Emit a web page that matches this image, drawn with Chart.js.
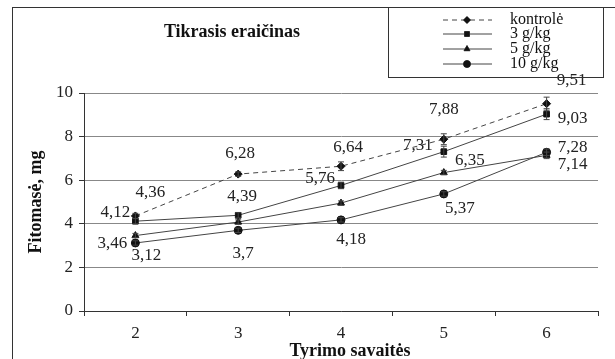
<!DOCTYPE html>
<html>
<head>
<meta charset="utf-8">
<script src="https://cdn.jsdelivr.net/npm/chart.js@4"></script>
<style>
  html, body { margin: 0; padding: 0; background: #fff; }
  #wrap { position: relative; width: 615px; height: 359px; overflow: hidden; }
  #frame { position: absolute; left: 12px; top: 7px; width: 640px; height: 400px; border: 1px solid #333; }
  canvas { position: absolute; left: 0; top: 0; }
</style>
</head>
<body>
<div id="wrap">
  <div id="frame"></div>
  <canvas id="chart" width="615" height="359"></canvas>
</div>
<script>
const weeks = ["2", "3", "4", "5", "6"];
const seriesNames = ["kontrolė", "3 g/kg", "5 g/kg", "10 g/kg"];
const kontrole = [4.36, 6.28, 6.64, 7.88, 9.51];
const g3 = [4.12, 4.39, 5.76, 7.31, 9.03];
const g5 = [3.46, 4.08, 4.95, 6.35, 7.14];
const g10 = [3.12, 3.7, 4.18, 5.37, 7.28];
const yTicks = [0, 2, 4, 6, 8, 10];

// error bar half-heights, estimated
const errKontrole = [0.12, 0.1, 0.2, 0.25, 0.3];
const errG3 = [0.12, 0.12, 0.15, 0.25, 0.25];
const errG5 = [0.1, 0.1, 0.1, 0.1, 0.15];
const errG10 = [0.1, 0.1, 0.1, 0.1, 0.15];

// which points carry a value label, and where it sits relative to the point (px)
const labelOffsets = [
  [[15, -23], [2, -21], [7, -19], [0, -30], [25, -23]],
  [[-20, -9], [4, -19], [-21, -7], [-26, -6], [26, 4]],
  [[-23, 8], null, null, [26, -12], [26, 9]],
  [[11, 13], [5, 23], [10, 20], [16, 15], [26, -5]]
];

const allValues = [kontrole, g3, g5, g10];
const allErrors = [errKontrole, errG3, errG5, errG10];
const markers = ["rectRot", "rect", "triangle", "circle"];
const dashes = [[5, 4], [], [], []];
const serif = "'Liberation Serif', 'DejaVu Serif', serif";

const extrasPlugin = {
  id: "extras",
  afterDatasetsDraw(chart) {
    const ctx = chart.ctx;
    const x = chart.scales.x, y = chart.scales.y;
    ctx.save();
    // error bars
    ctx.strokeStyle = "#444";
    ctx.lineWidth = 1;
    allValues.forEach((vals, i) => {
      vals.forEach((v, j) => {
        const e = allErrors[i][j];
        const px = x.getPixelForValue(j);
        const y1 = y.getPixelForValue(v + e), y2 = y.getPixelForValue(v - e);
        ctx.beginPath();
        ctx.moveTo(px, y1); ctx.lineTo(px, y2);
        ctx.moveTo(px - 3, y1); ctx.lineTo(px + 3, y1);
        ctx.moveTo(px - 3, y2); ctx.lineTo(px + 3, y2);
        ctx.stroke();
      });
    });
    // value labels
    ctx.fillStyle = "#222";
    ctx.font = "17px " + serif;
    ctx.textAlign = "center";
    ctx.textBaseline = "middle";
    allValues.forEach((vals, i) => {
      vals.forEach((v, j) => {
        const off = labelOffsets[i][j];
        if (!off) return;
        const px = x.getPixelForValue(j), py = y.getPixelForValue(v);
        ctx.fillText(String(v).replace(".", ","), px + off[0], py + off[1]);
      });
    });
    ctx.restore();
  },
  afterDraw(chart) {
    const ctx = chart.ctx;
    ctx.save();
    // title
    ctx.fillStyle = "#111";
    ctx.font = "bold 18px " + serif;
    ctx.textAlign = "center";
    ctx.textBaseline = "middle";
    ctx.fillText("Tikrasis eraičinas", 232, 32);
    // x axis title
    ctx.fillText("Tyrimo savaitės", 350, 351);
    // legend box
    ctx.strokeStyle = "#333";
    ctx.lineWidth = 1;
    ctx.strokeRect(388.5, 7.5, 215, 70);
    const rows = [20, 34, 49, 64];
    seriesNames.forEach((name, i) => {
      const ry = rows[i];
      ctx.strokeStyle = "#444";
      ctx.setLineDash(dashes[i]);
      ctx.beginPath();
      ctx.moveTo(443, ry); ctx.lineTo(492, ry);
      ctx.stroke();
      ctx.setLineDash([]);
      Chart.helpers.drawPoint(ctx, { pointStyle: markers[i], radius: 3.5, rotation: 0, borderWidth: 1 }, 467, ry);
      ctx.fillStyle = "#111";
      ctx.fill();
      ctx.font = "16px " + serif;
      ctx.textAlign = "left";
      ctx.fillText(name, 510, ry);
    });
    ctx.restore();
  }
};

new Chart(document.getElementById("chart"), {
  type: "line",
  data: {
    labels: weeks,
    datasets: allValues.map((vals, i) => ({
      label: seriesNames[i],
      data: vals,
      borderColor: "#444",
      borderWidth: 1,
      borderDash: dashes[i],
      pointStyle: markers[i],
      pointRadius: 4,
      pointBackgroundColor: "#111",
      pointBorderColor: "#111",
      tension: 0,
      clip: false
    }))
  },
  options: {
    responsive: false,
    animation: false,
    events: [],
    layout: { padding: { top: 93, right: 17, left: 0, bottom: 0 } },
    plugins: { legend: { display: false }, tooltip: { enabled: false }, title: { display: false } },
    scales: {
      x: {
        offset: true,
        afterFit(s) { s.height = 48; },
        grid: { display: true, drawOnChartArea: false, drawTicks: true, tickLength: 5, offset: true, tickColor: "#333" },
        border: { color: "#333" },
        ticks: { color: "#222", font: { family: serif, size: 17 }, padding: 7 },
        title: { display: false }
      },
      y: {
        min: 0, max: 10,
        afterFit(s) { s.width = 84; },
        afterBuildTicks(s) { s.ticks = yTicks.map(v => ({ value: v })); },
        grid: { color: "#888", tickColor: "#333", tickLength: 5 },
        border: { color: "#333" },
        ticks: { color: "#222", font: { family: serif, size: 17 }, padding: 6 },
        title: { display: true, text: "Fitomasė, mg", color: "#111", font: { family: serif, size: 18, weight: "bold" }, padding: { top: 26, bottom: 0 } }
      }
    }
  },
  plugins: [extrasPlugin]
});
</script>
</body>
</html>
